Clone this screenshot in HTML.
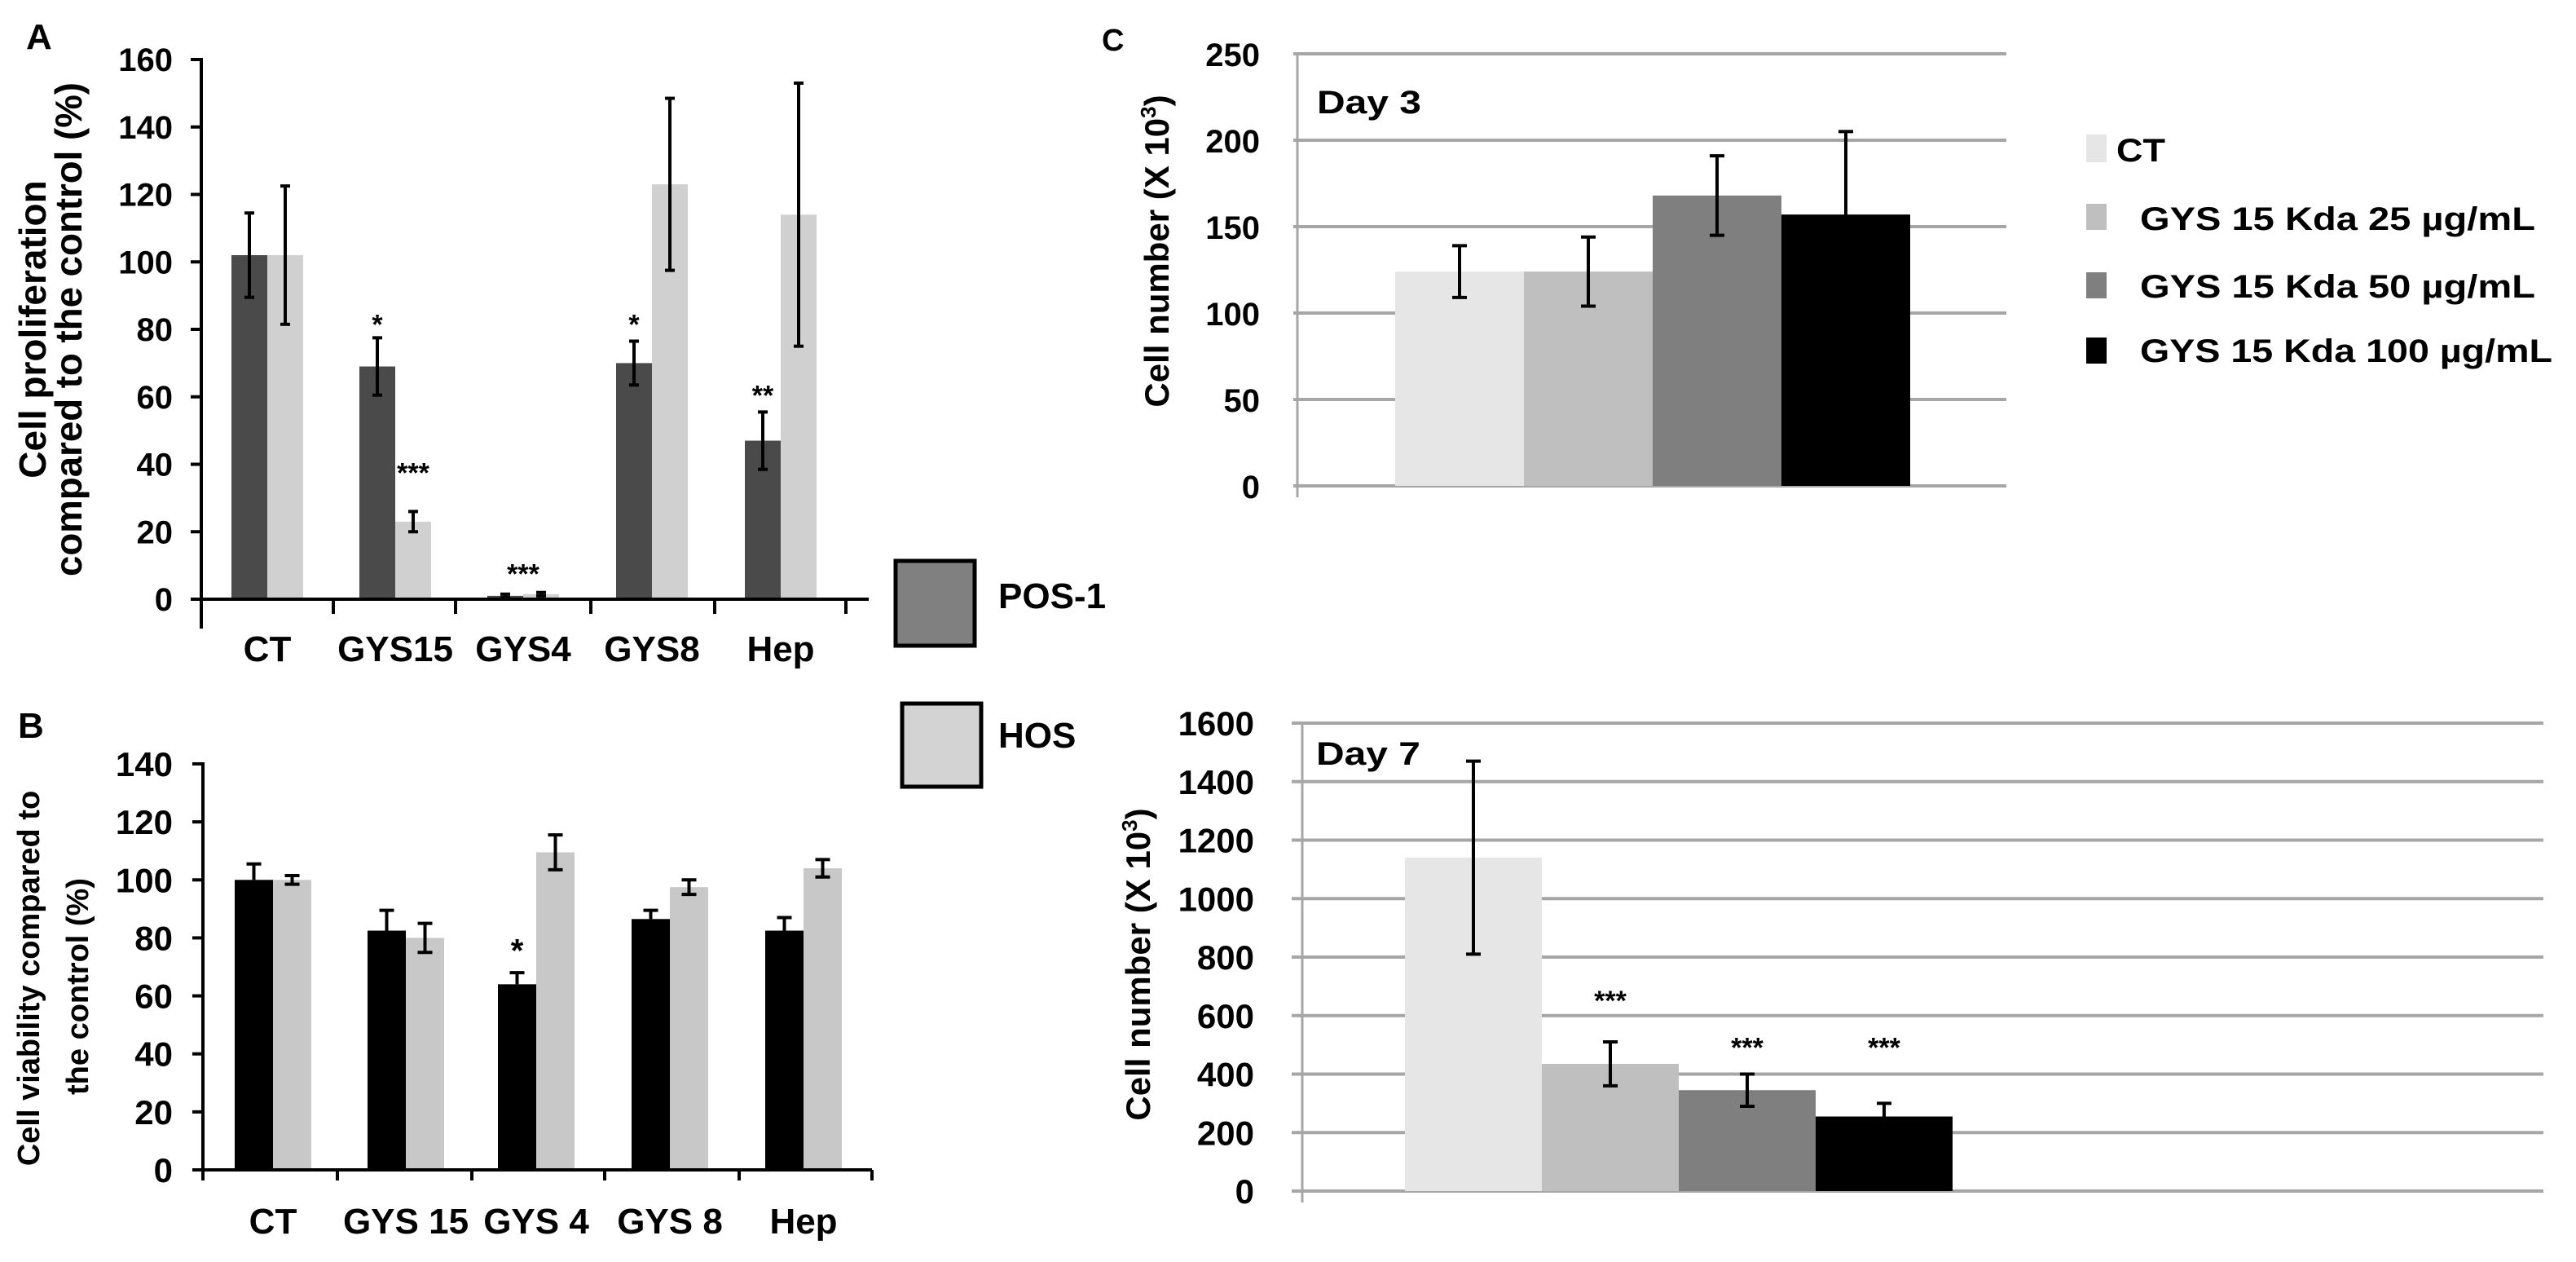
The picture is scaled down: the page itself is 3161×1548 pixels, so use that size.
<!DOCTYPE html>
<html><head><meta charset="utf-8"><style>
html,body{margin:0;padding:0;background:#fff;}
svg{display:block;}
text{font-family:"Liberation Sans",Arial,sans-serif;font-weight:bold;fill:#000;}
</style></head><body>
<svg id="fig" width="3161" height="1548" viewBox="0 0 3161 1548" xmlns="http://www.w3.org/2000/svg">
<text x="32" y="60" font-size="44">A</text>
<text x="22" y="905" font-size="44">B</text>
<text x="1352" y="62" font-size="38">C</text>
<text transform="translate(56,404) rotate(-90)" text-anchor="middle" font-size="46">Cell proliferation</text>
<text transform="translate(100,404) rotate(-90)" text-anchor="middle" font-size="46" textLength="606" lengthAdjust="spacingAndGlyphs">compared to the control (%)</text>
<text transform="translate(48,1200) rotate(-90)" text-anchor="middle" font-size="38">Cell viability compared to</text>
<text transform="translate(108,1210) rotate(-90)" text-anchor="middle" font-size="38">the control (%)</text>
<text transform="translate(1434,308) rotate(-90)" text-anchor="middle" font-size="42">Cell number (X 10<tspan font-size="26" dy="-16">3</tspan><tspan dy="16">)</tspan></text>
<text transform="translate(1411,1183) rotate(-90)" text-anchor="middle" font-size="42">Cell number (X 10<tspan font-size="26" dy="-16">3</tspan><tspan dy="16">)</tspan></text>
<g>
<rect x="1099" y="688" width="97" height="104" fill="#808080" stroke="#000" stroke-width="5"/>
<text x="1225" y="746" font-size="44">POS-1</text>
<rect x="1107" y="863" width="97" height="102" fill="#d3d3d3" stroke="#000" stroke-width="5"/>
<text x="1225" y="917" font-size="44">HOS</text>
</g>
<g>
<rect x="2560" y="165" width="25" height="34" fill="#e6e6e6"/>
<text x="2597" y="198" font-size="40" textLength="60" lengthAdjust="spacingAndGlyphs">CT</text>
<rect x="2560" y="250" width="25" height="32" fill="#bfbfbf"/>
<text x="2626" y="282" font-size="40" textLength="485" lengthAdjust="spacingAndGlyphs">GYS 15 Kda 25 µg/mL</text>
<rect x="2560" y="334" width="25" height="32" fill="#7f7f7f"/>
<text x="2626" y="365" font-size="40" textLength="485" lengthAdjust="spacingAndGlyphs">GYS 15 Kda 50 µg/mL</text>
<rect x="2560" y="414" width="25" height="32" fill="#000"/>
<text x="2626" y="444" font-size="40" textLength="506" lengthAdjust="spacingAndGlyphs">GYS 15 Kda 100 µg/mL</text>
</g>
<text x="1616" y="139" font-size="40" textLength="128" lengthAdjust="spacingAndGlyphs">Day 3</text>
<text x="1615" y="938" font-size="40" textLength="128" lengthAdjust="spacingAndGlyphs">Day 7</text>
</svg>
<script>
// Panel A data
const aCategories = ["CT","GYS15","GYS4","GYS8","Hep"];
const aPos1 = [102, 69, 1, 70, 47];
const aPos1Err = [12.5, 8.5, 0.5, 6.5, 8.5];
const aHos = [102, 23, 1.5, 123, 114];
const aHosErr = [20.5, 3, 0.5, 25.5, 39];
const aTicks = [0,20,40,60,80,100,120,140,160];
// significance markers: category index, series (0=POS-1, 1=HOS, 0.5=between), label, value level
const aStarCat = [1, 1, 2, 3, 4];
const aStarSeries = [0, 1, 0.5, 0, 0];
const aStars = ["*","***","***","*","**"];
const aStarVals = [84, 40, 10, 84, 63];
// Panel B data
const bCategories = ["CT","GYS 15","GYS 4","GYS 8","Hep"];
const bPos1 = [100, 82.5, 64, 86.5, 82.5];
const bPos1Err = [5.5, 7, 4, 3, 4.5];
const bHos = [100, 80, 109.5, 97.5, 104];
const bHosErr = [1.5, 5, 6, 2.5, 3];
const bTicks = [0,20,40,60,80,100,120,140];
// Panel C data
const cSeries = ["CT","GYS 15 Kda 25 µg/mL","GYS 15 Kda 50 µg/mL","GYS 15 Kda 100 µg/mL"];
const cDay3 = [124, 124, 168, 157];
const cDay3Err = [15, 20, 23, 48];
const cDay3Ticks = [0,50,100,150,200,250];
const cDay7 = [1140, 435, 345, 255];
const cDay7Err = [330, 75, 55, 45];
const cDay7Ticks = [0,200,400,600,800,1000,1200,1400,1600];
const cDay7Stars = ["","***","***","***"];
const cDay7StarVals = [0, 680, 520, 520];

const svg = document.getElementById('fig');
const NS = "http://www.w3.org/2000/svg";
function mk(tag, attrs){const e=document.createElementNS(NS,tag);for(const k in attrs)e.setAttribute(k,attrs[k]);svg.appendChild(e);return e;}
function line(x1,y1,x2,y2,col,w){return mk('line',{x1,y1,x2,y2,stroke:col,'stroke-width':w});}
function txt(x,y,s,size,anchor){const t=mk('text',{x,y,'font-size':size,'text-anchor':anchor||'middle'});t.textContent=s;return t;}
function errbar(cx,yTop,yBot,cap,col,w){
  const g=[];
  g.push(line(cx,yTop,cx,yBot,col,w));
  g.push(line(cx-cap/2,yTop,cx+cap/2,yTop,col,w));
  g.push(line(cx-cap/2,yBot,cx+cap/2,yBot,col,w));
  return g;
}

// ---------- Panel A ----------
(function(){
  const y0=735, y1=73, vmax=160;
  const ay=v=>y0-(y0-y1)*v/vmax;
  const centers=[328,485,642,800,958], bw=44;
  aTicks.forEach(v=>{
    const tl=line(234,ay(v),249,ay(v),'#000',4);
    
    
    const t=txt(212,ay(v)+14,String(v),40,'end');
    
    
  });
  aCategories.forEach((c,i)=>{
    const cx=centers[i];
    const r1=mk('rect',{x:cx-bw,y:ay(aPos1[i]),width:bw,height:y0-ay(aPos1[i]),fill:'#4a4a4a'});
    
    
    const r2=mk('rect',{x:cx,y:ay(aHos[i]),width:bw,height:y0-ay(aHos[i]),fill:'#d0d0d0'});
    
    
    errbar(cx-bw/2,ay(aPos1[i]+aPos1Err[i]),ay(aPos1[i]-aPos1Err[i]),12,'#000',4).forEach(e=>{
      
      
    });
    errbar(cx+bw/2,ay(aHos[i]+aHosErr[i]),ay(aHos[i]-aHosErr[i]),12,'#000',4).forEach(e=>{
      
      
    });
    const lab=txt(cx,811,c,44);
    
    
  });
  aStars.forEach((s,i)=>{
    const x=centers[aStarCat[i]]-bw/2+aStarSeries[i]*bw;
    const t=txt(x,ay(aStarVals[i])+22,s,34);
    
    
  });
  const yax=line(247,73,247,771,'#000',4);
  
  
  const xax=line(247,y0,1066,y0,'#000',4);
  
  
  [409,559,725,877,1038].forEach(x=>{
    const t=line(x,y0,x,753,'#000',4);
    
    
  });
})();

// ---------- Panel B ----------
(function(){
  const y0=1435, y1=937, vmax=140;
  const by=v=>y0-(y0-y1)*v/vmax;
  const centers=[335,498,658,822,986], bw=47;
  bTicks.forEach(v=>{
    const tl=line(236,by(v),251,by(v),'#000',4);
    
    
    const t=txt(212,by(v)+15,String(v),42,'end');
    
    
  });
  bCategories.forEach((c,i)=>{
    const cx=centers[i];
    const r1=mk('rect',{x:cx-bw,y:by(bPos1[i]),width:bw,height:y0-by(bPos1[i]),fill:'#000'});
    
    
    const r2=mk('rect',{x:cx,y:by(bHos[i]),width:bw,height:y0-by(bHos[i]),fill:'#c8c8c8'});
    
    
    const e1=line(cx-bw/2,by(bPos1[i]),cx-bw/2,by(bPos1[i]+bPos1Err[i]),'#000',4);
    
    
    const e1c=line(cx-bw/2-9,by(bPos1[i]+bPos1Err[i]),cx-bw/2+9,by(bPos1[i]+bPos1Err[i]),'#000',4);
    
    
    errbar(cx+bw/2,by(bHos[i]+bHosErr[i]),by(bHos[i]-bHosErr[i]),18,'#000',4).forEach(e=>{
      
      
    });
    const lab=txt(cx,1513,c,44);
    
    
  });
  const st=txt(centers[2]-bw/2,by(78)+22,'*',40);
  
  
  const yax=line(249,937,249,y0,'#000',4);
  
  
  const xax=line(249,y0,1070,y0,'#000',4);
  
  
  [249,414,579,742,907,1070].forEach(x=>{
    const t=line(x,y0,x,1448,'#000',4);
    
    
  });
})();

// ---------- Panel C ----------
function drawC(vals,errs,ticks,vmax,y0,y1,axisX,gx0,gx1,barX0,bw,prefix,fs,labelRight,stars,starVals){
  const cy=v=>y0-(y0-y1)*v/vmax;
  const colors=['#e6e6e6','#bfbfbf','#7f7f7f','#000000'];
  ticks.forEach(v=>{
    const g=line(gx0,cy(v),gx1,cy(v),'#a6a6a6',4);
    
    
    const t=txt(labelRight,cy(v)+15,String(v),fs,'end');
    
    
  });
  const ax=line(axisX,y1,axisX,y0+14,'#a6a6a6',3);
  
  
  vals.forEach((v,i)=>{
    const x=barX0+i*bw;
    const r=mk('rect',{x:x,y:cy(v),width:bw,height:y0-cy(v),fill:colors[i]});
    
    
    errbar(x+bw/2,cy(v+errs[i]),cy(Math.max(0,v-errs[i])),18,'#000',4).forEach(e=>{
      
      
    });
    if(stars && stars[i]){
      const s=txt(x+bw/2,cy(starVals[i])+22,stars[i],34);
      
      
    }
  });
}
drawC(cDay3,cDay3Err,cDay3Ticks,250,596,66,1592,1587,2462,1712,158,'c-top',40,1546,null,null);
drawC(cDay7,cDay7Err,cDay7Ticks,1600,1461,887,1598,1585,3121,1724,168,'c-bottom',42,1539,cDay7Stars,cDay7StarVals);
</script>
</body></html>
